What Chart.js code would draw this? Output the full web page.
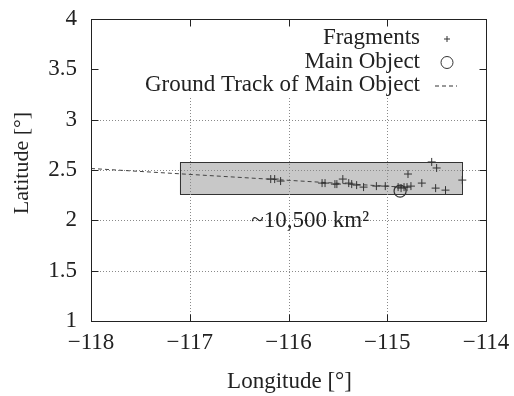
<!DOCTYPE html>
<html><head><meta charset="utf-8">
<script src="https://cdn.jsdelivr.net/npm/chart.js@4/dist/chart.umd.min.js"></script>
<style>html,body{margin:0;padding:0;background:#fff}</style>
</head><body>
<canvas id="c" width="514" height="396" style="display:block;width:514px;height:396px"></canvas>
<script>
// ---- data ----
const fragLon = [-116.18, -116.14, -116.08, -115.66, -115.63, -115.53, -115.51, -115.45, -115.39, -115.36, -115.31, -115.24, -115.11, -115.02, -114.89, -114.86, -114.83, -114.80, -114.76, -114.79, -114.65, -114.55, -114.50, -114.51, -114.41, -114.24];
const fragLat = [2.41, 2.41, 2.39, 2.37, 2.37, 2.36, 2.36, 2.41, 2.37, 2.36, 2.35, 2.33, 2.34, 2.34, 2.33, 2.32, 2.33, 2.33, 2.34, 2.46, 2.37, 2.58, 2.52, 2.32, 2.30, 2.40];
const mainLon = [-114.87];
const mainLat = [2.29];
const trackLon = [-118.0, -114.85];
const trackLat = [2.515, 2.33];
const regionLon = [-117.1, -114.24];
const regionLat = [2.26, 2.575];
const xTickValues = [-118, -117, -116, -115, -114];
const xTickLabels = ['\u2212118', '\u2212117', '\u2212116', '\u2212115', '\u2212114'];
const yTickValues = [1, 1.5, 2, 2.5, 3, 3.5, 4];
const yTickLabels = ['1', '1.5', '2', '2.5', '3', '3.5', '4'];
const seriesNames = ['Fragments', 'Main Object', 'Ground Track of Main Object'];
const areaLabel = '~10,500 km\u00B2';
const xTitle = 'Longitude [\u00B0]';
const yTitle = 'Latitude [\u00B0]';

// ---- presentation ----
const areaLabelPos = {lon: -115.78, lat: 1.99};
const FONT = '"Liberation Serif", "Times New Roman", serif';
const INK = '#222';

const deco = {
  id: 'deco',
  beforeDatasetsDraw(chart) {
    const {ctx, chartArea: a, scales: {x, y}} = chart;
    ctx.save();
    const x1 = x.getPixelForValue(regionLon[0]), x2 = x.getPixelForValue(regionLon[1]);
    const y1 = y.getPixelForValue(regionLat[1]), y2 = y.getPixelForValue(regionLat[0]);
    ctx.fillStyle = '#c8c8c8';
    ctx.fillRect(x1, y1, x2 - x1, y2 - y1);
    ctx.strokeStyle = '#333'; ctx.lineWidth = 1;
    ctx.strokeRect(Math.round(x1) + 0.5, Math.round(y1) + 0.5, Math.round(x2 - x1), Math.round(y2 - y1));
    // grid (hidden behind opaque key at top)
    const keyBottom = a.top + 79;
    ctx.setLineDash([1, 2]); ctx.strokeStyle = '#8a8a8a';
    xTickValues.slice(1, -1).forEach(v => {
      const px = Math.round(x.getPixelForValue(v)) + 0.5;
      ctx.beginPath(); ctx.moveTo(px, a.bottom); ctx.lineTo(px, keyBottom); ctx.stroke();
    });
    yTickValues.slice(1, -1).forEach(v => {
      const py = Math.round(y.getPixelForValue(v)) + 0.5;
      if (py < keyBottom) return;
      ctx.beginPath(); ctx.moveTo(a.left, py); ctx.lineTo(a.right, py); ctx.stroke();
    });
    ctx.restore();
  },
  afterDatasetsDraw(chart) {
    const {ctx, chartArea: a, scales: {x, y}} = chart;
    ctx.save();
    ctx.strokeStyle = INK; ctx.lineWidth = 1; ctx.setLineDash([]);
    const L = Math.round(a.left) + 0.5, R = Math.round(a.right) + 0.5, T = Math.round(a.top) + 0.5, B = Math.round(a.bottom) + 0.5;
    ctx.strokeRect(L, T, R - L, B - T);
    const tl = 7;
    ctx.beginPath();
    xTickValues.slice(1, -1).forEach(v => {
      const px = Math.round(x.getPixelForValue(v)) + 0.5;
      ctx.moveTo(px, B); ctx.lineTo(px, B - tl);
      ctx.moveTo(px, T); ctx.lineTo(px, T + tl);
    });
    yTickValues.slice(1, -1).forEach(v => {
      const py = Math.round(y.getPixelForValue(v)) + 0.5;
      ctx.moveTo(L, py); ctx.lineTo(L + tl, py);
      ctx.moveTo(R, py); ctx.lineTo(R - tl, py);
    });
    ctx.stroke();

    // key
    ctx.fillStyle = INK;
    ctx.font = '23px ' + FONT;
    ctx.textAlign = 'right'; ctx.textBaseline = 'middle';
    const kx = 420, sx = 447, rows = [38, 61.5, 85];
    seriesNames.forEach((n, i) => ctx.fillText(n, kx, rows[i]));
    ctx.strokeStyle = '#333'; ctx.lineWidth = 1;
    ctx.beginPath(); ctx.moveTo(sx - 3, rows[0] + 1); ctx.lineTo(sx + 3, rows[0] + 1);
    ctx.moveTo(sx, rows[0] - 2); ctx.lineTo(sx, rows[0] + 4); ctx.stroke();
    ctx.beginPath(); ctx.arc(sx, rows[1] + 1, 6, 0, Math.PI * 2); ctx.stroke();
    ctx.setLineDash([4, 3]);
    ctx.beginPath(); ctx.moveTo(sx - 12, rows[2] + 1); ctx.lineTo(sx + 10, rows[2] + 1); ctx.stroke();
    ctx.setLineDash([]);

    // area label
    ctx.textAlign = 'center';
    ctx.fillText(areaLabel, x.getPixelForValue(areaLabelPos.lon), y.getPixelForValue(areaLabelPos.lat));

    // axis titles
    ctx.fillText(xTitle, (a.left + a.right) / 2 + 1, 382);
    ctx.translate(22, 163); ctx.rotate(-Math.PI / 2);
    ctx.font = '22px ' + FONT;
    ctx.fillText(yTitle, 0, 0);
    ctx.restore();
  }
};

const pts = (xs, ys) => xs.map((v, i) => ({x: v, y: ys[i]}));
const tickFont = {family: FONT, size: 23};

new Chart(document.getElementById('c'), {
  type: 'scatter',
  data: {
    datasets: [
      {label: seriesNames[0], data: pts(fragLon, fragLat), pointStyle: 'cross', pointRadius: 4, borderColor: '#333', borderWidth: 1, backgroundColor: '#333'},
      {label: seriesNames[1], data: pts(mainLon, mainLat), pointStyle: 'circle', pointRadius: 6, borderColor: '#333', borderWidth: 1.2, backgroundColor: 'rgba(0,0,0,0)'},
      {label: seriesNames[2], data: pts(trackLon, trackLat), showLine: true, pointRadius: 0, borderColor: '#444', borderWidth: 1, borderDash: [4, 3], fill: false}
    ]
  },
  options: {
    responsive: false, animation: false, devicePixelRatio: 1,
    layout: {padding: {top: 19, right: 28, left: 0, bottom: 0}},
    plugins: {legend: {display: false}, tooltip: {enabled: false}},
    scales: {
      x: {
        type: 'linear', min: -118, max: -114,
        grid: {display: false, drawTicks: false}, border: {display: false},
        afterBuildTicks: s => { s.ticks = xTickValues.map(v => ({value: v})); },
        afterFit: s => { s.height = 75; s.paddingLeft = 0; s.paddingRight = 0; },
        ticks: {font: tickFont, color: INK, padding: 8, maxRotation: 0, autoSkip: false, callback: (v, i) => xTickLabels[i]}
      },
      y: {
        type: 'linear', min: 1, max: 4,
        grid: {display: false, drawTicks: false}, border: {display: false},
        afterBuildTicks: s => { s.ticks = yTickValues.map(v => ({value: v})); },
        afterFit: s => { s.width = 91; s.paddingTop = 0; s.paddingBottom = 0; },
        ticks: {font: tickFont, color: INK, padding: 14, autoSkip: false, callback: (v, i) => yTickLabels[i]}
      }
    }
  },
  plugins: [deco]
});
</script>
</body></html>
